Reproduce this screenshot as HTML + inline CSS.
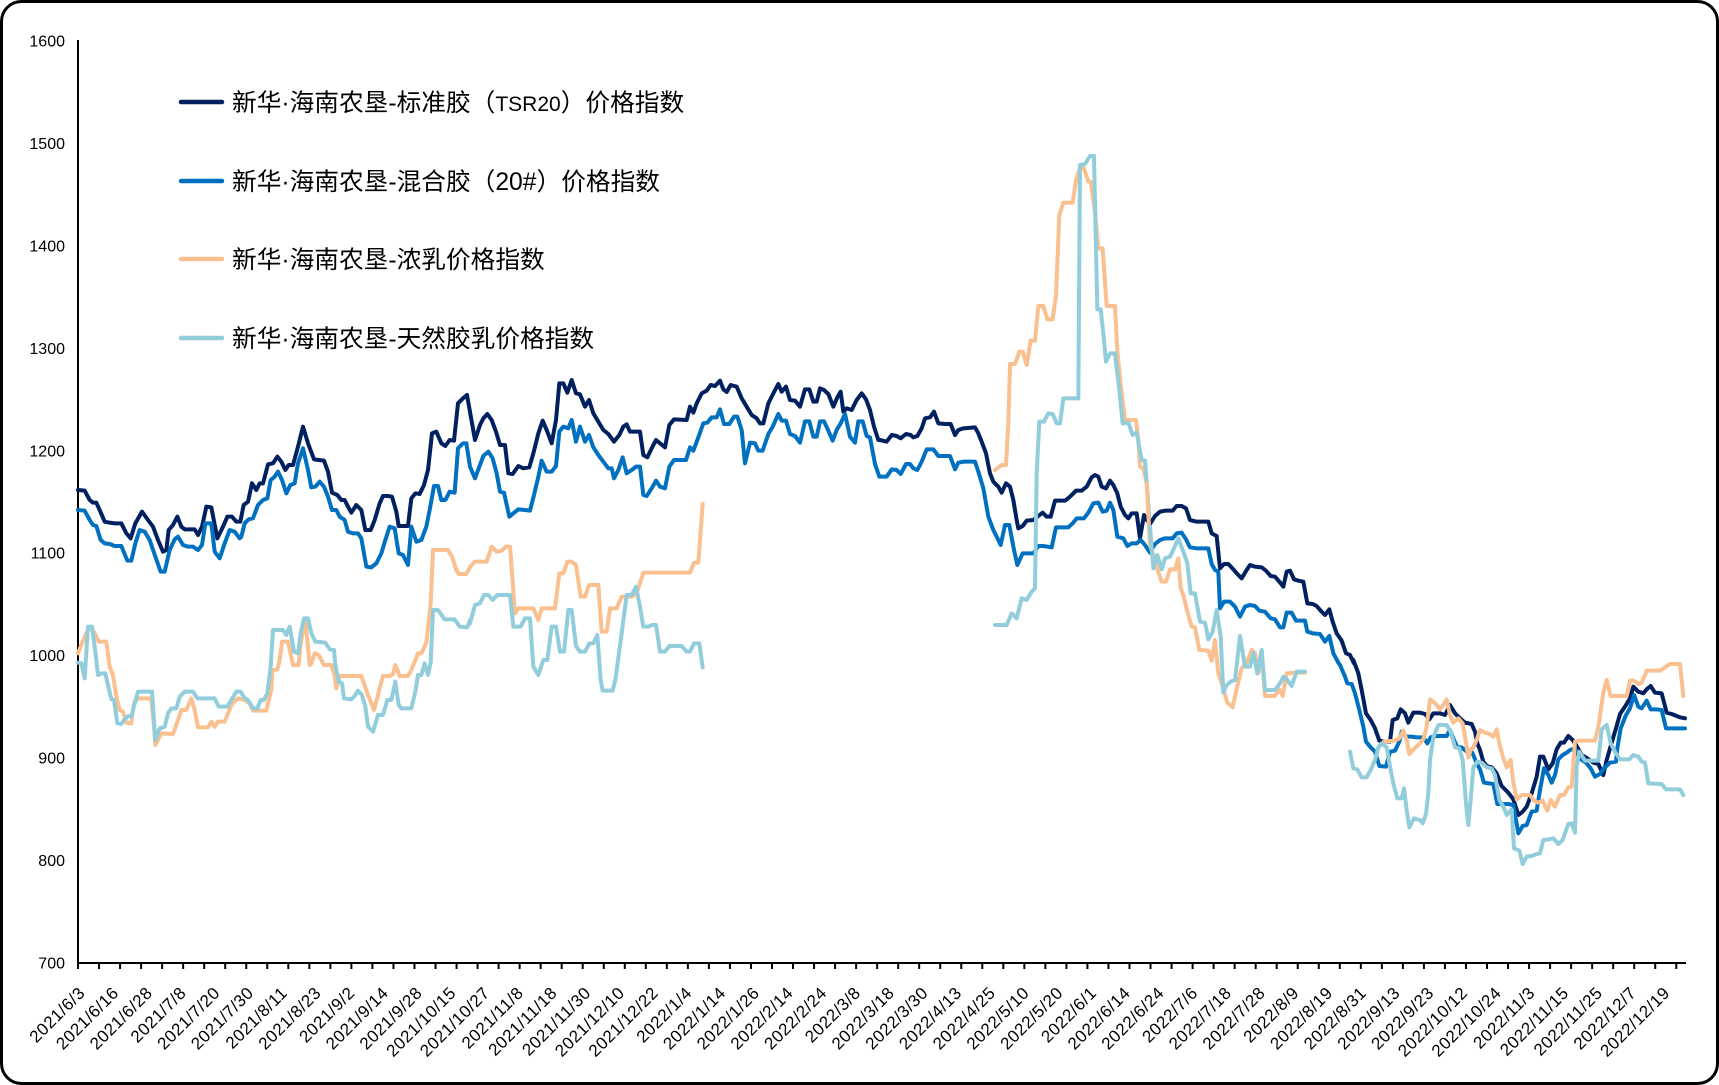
<!DOCTYPE html>
<html><head><meta charset="utf-8"><style>
html,body{margin:0;padding:0;background:#fff;}
svg{display:block;}
text{font-family:"Liberation Sans","Noto Sans CJK SC",sans-serif;fill:#000;}
.s{fill:none;stroke-width:4;stroke-linejoin:round;stroke-linecap:round;}
.c1{stroke:#002060}.c2{stroke:#0070C0}.c3{stroke:#FAC090}.c4{stroke:#92CDDC}
</style></head><body>
<svg width="1719" height="1085" viewBox="0 0 1719 1085" xmlns="http://www.w3.org/2000/svg">
<rect x="1.5" y="1.5" width="1716" height="1082" rx="20" ry="20" fill="#fff" stroke="#000" stroke-width="3"/>
<!-- axes -->
<line x1="78" y1="40" x2="78" y2="964" stroke="#000" stroke-width="2"/>
<line x1="77" y1="963" x2="1686" y2="963" stroke="#000" stroke-width="2"/>
<line x1="77" y1="966" x2="1686" y2="966" stroke="#000" stroke-width="6" stroke-dasharray="2 19.03"/>
<!-- y labels -->
<g font-size="16" text-anchor="end">
<text x="65" y="968.5">700</text>
<text x="65" y="866.1">800</text>
<text x="65" y="763.6">900</text>
<text x="65" y="661.2">1000</text>
<text x="65" y="558.7">1100</text>
<text x="65" y="456.3">1200</text>
<text x="65" y="353.8">1300</text>
<text x="65" y="251.4">1400</text>
<text x="65" y="148.9">1500</text>
<text x="65" y="46.5">1600</text>
</g>
<!-- x labels -->
<g font-size="17" letter-spacing="0.5" text-anchor="end">
<text transform="translate(86 994) rotate(-45)">2021/6/3</text>
<text transform="translate(119.72 994) rotate(-45)">2021/6/16</text>
<text transform="translate(153.44 994) rotate(-45)">2021/6/28</text>
<text transform="translate(187.16 994) rotate(-45)">2021/7/8</text>
<text transform="translate(220.88 994) rotate(-45)">2021/7/20</text>
<text transform="translate(254.6 994) rotate(-45)">2021/7/30</text>
<text transform="translate(288.32 994) rotate(-45)">2021/8/11</text>
<text transform="translate(322.04 994) rotate(-45)">2021/8/23</text>
<text transform="translate(355.76 994) rotate(-45)">2021/9/2</text>
<text transform="translate(389.48 994) rotate(-45)">2021/9/14</text>
<text transform="translate(423.2 994) rotate(-45)">2021/9/28</text>
<text transform="translate(456.92 994) rotate(-45)">2021/10/15</text>
<text transform="translate(490.64 994) rotate(-45)">2021/10/27</text>
<text transform="translate(524.36 994) rotate(-45)">2021/11/8</text>
<text transform="translate(558.08 994) rotate(-45)">2021/11/18</text>
<text transform="translate(591.8 994) rotate(-45)">2021/11/30</text>
<text transform="translate(625.52 994) rotate(-45)">2021/12/10</text>
<text transform="translate(659.24 994) rotate(-45)">2021/12/22</text>
<text transform="translate(692.96 994) rotate(-45)">2022/1/4</text>
<text transform="translate(726.68 994) rotate(-45)">2022/1/14</text>
<text transform="translate(760.4 994) rotate(-45)">2022/1/26</text>
<text transform="translate(794.12 994) rotate(-45)">2022/2/14</text>
<text transform="translate(827.84 994) rotate(-45)">2022/2/24</text>
<text transform="translate(861.56 994) rotate(-45)">2022/3/8</text>
<text transform="translate(895.28 994) rotate(-45)">2022/3/18</text>
<text transform="translate(929 994) rotate(-45)">2022/3/30</text>
<text transform="translate(962.72 994) rotate(-45)">2022/4/13</text>
<text transform="translate(996.44 994) rotate(-45)">2022/4/25</text>
<text transform="translate(1030.16 994) rotate(-45)">2022/5/10</text>
<text transform="translate(1063.88 994) rotate(-45)">2022/5/20</text>
<text transform="translate(1097.6 994) rotate(-45)">2022/6/1</text>
<text transform="translate(1131.32 994) rotate(-45)">2022/6/14</text>
<text transform="translate(1165.04 994) rotate(-45)">2022/6/24</text>
<text transform="translate(1198.76 994) rotate(-45)">2022/7/6</text>
<text transform="translate(1232.48 994) rotate(-45)">2022/7/18</text>
<text transform="translate(1266.2 994) rotate(-45)">2022/7/28</text>
<text transform="translate(1299.92 994) rotate(-45)">2022/8/9</text>
<text transform="translate(1333.64 994) rotate(-45)">2022/8/19</text>
<text transform="translate(1367.36 994) rotate(-45)">2022/8/31</text>
<text transform="translate(1401.08 994) rotate(-45)">2022/9/13</text>
<text transform="translate(1434.8 994) rotate(-45)">2022/9/23</text>
<text transform="translate(1468.52 994) rotate(-45)">2022/10/12</text>
<text transform="translate(1502.24 994) rotate(-45)">2022/10/24</text>
<text transform="translate(1535.96 994) rotate(-45)">2022/11/3</text>
<text transform="translate(1569.68 994) rotate(-45)">2022/11/15</text>
<text transform="translate(1603.4 994) rotate(-45)">2022/11/25</text>
<text transform="translate(1637.12 994) rotate(-45)">2022/12/7</text>
<text transform="translate(1670.84 994) rotate(-45)">2022/12/19</text>
</g>

<!-- Segment A (zoom origin 78,370) -->
<g transform="translate(78 370) scale(0.333333)">
<polyline class="s c1" vector-effect="non-scaling-stroke" points="0,360 20,362 35,390 45,398 55,398 65,420 80,455 95,458 110,460 130,460 145,490 158,505 172,460 192,425 210,450 225,470 240,510 255,545 265,540 272,480 285,465 298,440 310,470 320,478 350,478 360,495 372,470 385,410 400,412 418,505 435,470 448,440 462,440 475,455 487,455 497,405 510,395 522,340 535,360 545,340 555,340 570,283 585,280 598,260 610,275 622,300 632,285 645,285 660,230 675,170 690,220 708,268 722,270 738,272 750,305 762,368 778,375 790,390 800,390 810,410 820,428 835,405 850,420 862,480 878,480 890,450 905,400 915,378 930,378 942,380 955,425 962,468 990,468 1000,385 1012,370 1025,372 1038,345 1050,300 1062,190 1075,185 1090,220 1102,228 1115,210 1128,212 1140,100 1155,85 1167,75"/>
<polyline class="s c2" vector-effect="non-scaling-stroke" points="0,420 20,422 35,450 45,465 55,468 68,510 80,520 95,522 110,528 130,528 148,572 160,572 172,520 185,480 200,485 215,510 232,560 248,605 260,605 275,540 290,508 300,500 315,525 330,530 345,530 360,540 372,525 382,460 400,460 410,545 425,565 440,520 455,480 470,485 485,505 490,500 500,460 512,448 525,445 540,405 555,390 568,385 578,330 590,320 600,305 612,330 625,370 637,345 650,340 660,280 675,235 690,300 700,352 712,350 725,335 738,350 750,380 762,420 775,420 785,440 800,450 810,485 825,490 840,490 850,505 865,590 880,592 895,580 910,550 922,510 935,470 950,475 962,550 975,555 990,585 1000,470 1015,515 1030,510 1045,470 1055,420 1068,348 1080,348 1090,390 1102,390 1115,365 1130,368 1140,235 1155,220 1165,220"/>
<polyline class="s c3" vector-effect="non-scaling-stroke" points="0,850 12,820 25,790 38,770 50,790 62,815 85,815 95,890 105,915 115,980 125,1020 135,1025 145,1058 160,1060 168,1000 180,985 215,985 220,990 228,1070 232,1125 250,1090 285,1092 300,1050 310,1020 325,1020 340,985 350,1020 360,1072 390,1072 400,1055 410,1070 420,1055 440,1055 452,1025 462,1002 480,985 500,990 515,1000 525,1022 565,1022 570,1000 580,960 583,900 598,898 605,870 612,815 630,815 645,885 662,885 668,820 682,750 695,885 700,880 710,850 722,855 738,885 760,885 770,918 775,955 785,918 850,918 858,940 870,975 888,1020 900,975 910,935 915,918 935,918 945,912 952,885 965,918 990,918 1000,900 1012,870 1020,850 1030,850 1045,818 1058,700 1065,540 1110,540 1122,560 1135,600 1142,612 1165,612 1176,592"/>
<polyline class="s c4" vector-effect="non-scaling-stroke" points="0,878 10,880 20,925 30,770 42,770 52,845 60,915 72,910 82,910 90,945 100,988 108,990 118,1060 130,1062 140,1048 150,1038 160,1040 170,1000 180,965 222,965 232,1110 245,1075 260,1070 270,1030 280,1015 295,1015 305,980 320,965 345,965 358,985 410,985 422,1010 448,1010 460,990 475,965 488,965 500,985 510,990 525,1015 538,1015 548,990 558,990 568,970 578,890 585,780 615,780 625,795 635,770 648,845 660,850 668,790 678,745 690,745 700,790 712,815 742,818 755,838 768,840 772,885 782,935 792,940 798,985 820,988 830,978 840,962 852,975 862,1010 870,1070 885,1085 900,1035 915,1035 928,990 940,990 952,935 962,1005 970,1015 1000,1015 1012,965 1020,915 1030,915 1040,880 1050,915 1058,878 1065,720 1080,720 1100,748 1130,748 1145,770 1168,772 1176,750"/>
</g>

<!-- Segment B (zoom origin 470,360) -->
<g transform="translate(470 360) scale(0.333333)">
<polyline class="s c1" vector-effect="non-scaling-stroke" points="-9,105 15,240 30,195 40,175 52,162 65,180 78,215 90,255 105,255 115,340 128,342 145,318 160,325 178,322 190,280 205,220 218,182 232,215 245,250 258,180 268,70 280,70 292,98 305,60 318,100 330,103 345,140 357,120 370,160 385,185 400,210 415,222 432,245 448,225 460,200 470,193 480,215 510,215 520,285 532,292 545,265 558,240 570,250 585,262 598,195 612,178 650,180 660,140 670,158 680,130 695,100 710,92 722,75 735,78 750,62 760,88 770,96 782,75 800,80 815,115 830,140 845,165 860,175 870,190 880,190 895,130 910,100 925,72 935,95 948,80 960,120 975,122 990,140 1005,88 1018,88 1030,125 1040,125 1050,85 1062,90 1075,102 1090,140 1102,112 1112,95 1120,155 1130,145 1145,150 1160,120 1175,100 1188,118 1200,150 1212,200 1225,240 1230,240"/>
<polyline class="s c2" vector-effect="non-scaling-stroke" points="-11,250 0,320 15,355 28,320 40,288 55,275 68,295 80,340 90,395 102,398 118,470 130,460 145,448 165,450 180,452 192,405 205,350 215,302 230,335 245,335 258,318 268,215 280,200 295,205 305,180 318,245 330,200 345,245 357,225 370,262 385,285 400,305 415,325 425,325 432,355 445,330 458,292 470,340 485,330 498,320 510,320 520,405 530,408 545,385 558,362 570,380 585,385 598,320 612,300 648,300 660,262 670,272 685,232 700,190 712,188 725,172 740,172 750,148 762,192 778,192 792,170 802,170 815,210 825,310 840,248 855,250 865,272 878,272 895,222 908,200 925,162 935,182 948,182 960,222 975,228 990,248 1005,184 1018,184 1030,230 1040,230 1050,184 1062,184 1075,212 1088,242 1100,210 1112,190 1125,162 1140,230 1155,248 1165,184 1178,184 1190,228 1200,232 1215,312 1228,350 1230,350"/>
<polyline class="s c3" vector-effect="non-scaling-stroke" points="0,620 15,605 50,605 65,560 80,575 95,572 108,560 120,560 135,760 145,745 190,745 205,780 215,745 255,745 268,640 280,640 292,605 305,605 318,615 332,710 345,710 357,675 385,675 395,815 410,815 420,745 440,745 455,710 485,710 500,700 520,638 660,638 672,608 685,608 698,432"/>
<polyline class="s c4" vector-effect="non-scaling-stroke" points="0,790 15,735 30,730 42,705 55,705 68,720 82,705 120,705 130,800 152,800 165,775 180,775 190,920 205,945 220,900 232,900 245,800 258,800 270,875 282,875 295,750 305,750 318,858 330,875 345,875 358,850 370,850 382,825 392,960 398,992 428,992 436,960 455,820 470,705 485,705 498,680 510,740 520,800 535,800 545,795 558,795 570,875 585,875 598,858 635,858 650,875 660,875 672,850 688,850 698,922"/>
</g>

<!-- Segment C (zoom origin 880,140) -->
<g transform="translate(880 140) scale(0.333333)">
<polyline class="s c1" vector-effect="non-scaling-stroke" points="0,900 20,905 35,885 50,888 62,895 78,882 92,885 100,892 112,888 125,865 135,835 150,832 162,815 175,850 195,852 212,852 225,885 235,870 250,865 285,862 295,880 305,905 318,940 330,1000 340,1025 355,1040 365,1058 378,1030 390,1040 400,1080 410,1140 415,1165 428,1158 440,1142 460,1140 475,1128 488,1118 500,1130 512,1130 525,1082 555,1082 570,1070 588,1052 605,1052 620,1040 635,1012 645,1005 655,1010 665,1040 678,1045 690,1022 700,1035 712,1060 722,1100 735,1125 745,1135 755,1120 770,1120 780,1195 792,1125 800,1140 810,1150"/>
<polyline class="s c2" vector-effect="non-scaling-stroke" points="0,1010 20,1010 35,988 50,990 62,1002 78,972 90,972 100,985 112,990 125,965 140,928 160,928 175,948 210,948 225,988 235,968 250,965 285,965 295,995 310,1045 325,1130 340,1170 350,1190 362,1215 375,1155 388,1155 400,1220 412,1275 428,1240 460,1240 475,1218 490,1218 515,1222 528,1162 565,1162 578,1150 590,1135 612,1135 625,1118 640,1090 655,1088 668,1115 680,1112 690,1088 700,1110 712,1190 730,1195 742,1218 755,1210 770,1210 782,1200 795,1215 810,1238"/>
<polyline class="s c3" vector-effect="non-scaling-stroke" points="345,990 365,975 378,975 385,850 390,672 405,672 418,635 428,635 440,675 452,602 465,602 475,498 490,498 502,538 518,538 528,465 538,225 550,188 578,188 588,120 600,85 612,85 625,125 632,125 645,215 655,325 668,325 680,498 705,498 712,635 725,760 735,840 768,840 775,900 780,980 790,985 800,1030"/>
<polyline class="s c4" vector-effect="non-scaling-stroke" points="345,1455 380,1455 395,1420 410,1435 425,1375 440,1380 455,1355 465,1345 470,1000 478,845 492,845 505,820 518,822 530,850 540,850 550,775 595,775 600,75 615,72 630,48 642,48 652,508 662,508 670,580 678,665 690,640 705,640 718,750 728,850 745,848 758,885 770,878 785,960 795,962 802,1050 810,1165"/>
</g>

<!-- Segment D (zoom origin 1150,420) -->
<g transform="translate(1150 420) scale(0.333333)">
<polyline class="s c1" vector-effect="non-scaling-stroke" points="0,312 15,288 30,275 45,272 68,272 80,258 95,258 108,265 120,300 140,305 175,305 185,340 200,348 210,445 222,432 235,432 250,448 262,462 275,475 290,450 300,435 315,440 335,442 348,452 362,468 375,470 388,485 400,500 410,455 420,452 432,478 445,482 460,485 472,550 488,552 500,558 512,572 525,585 538,568 548,605 560,640 575,662 588,700 600,705 612,730"/>
<polyline class="s c2" vector-effect="non-scaling-stroke" points="0,395 15,372 30,360 45,355 68,355 80,340 95,338 108,358 120,382 140,385 175,385 185,432 195,450 205,455 210,565 222,545 240,545 255,560 270,590 285,560 300,555 315,558 328,572 345,575 362,595 375,598 390,622 400,622 410,578 425,578 438,602 465,602 472,635 488,640 510,642 525,665 538,648 550,700 565,728 570,735"/>
<polyline class="s c3" vector-effect="non-scaling-stroke" points="-10,190 0,375 10,405 22,448 35,485 48,485 60,448 75,448 85,415 92,505 100,525 112,575 125,620 135,622 148,690 175,692 185,722 195,660 205,760 218,800 232,848 248,862 262,798 275,745 290,728 305,690 315,700 325,760 335,700 345,828 375,828 388,808 398,828 410,760 435,758 465,758"/>
<polyline class="s c4" vector-effect="non-scaling-stroke" points="0,320 10,445 22,405 35,448 45,415 60,410 72,385 85,355 100,395 112,430 122,520 135,520 150,605 165,608 175,658 188,635 200,570 212,650 220,818 230,795 242,785 255,780 270,648 285,740 300,740 310,700 322,760 335,690 345,810 375,810 390,790 400,770 412,780 425,798 440,755 465,755"/>
</g>

<!-- Segment E (zoom origin 1340,660) -->
<g transform="translate(1340 660) scale(0.333333)">
<polyline class="s c1" vector-effect="non-scaling-stroke" points="40,0 55,40 65,90 78,160 92,180 105,205 118,242 135,245 150,245 158,180 172,175 182,148 195,160 205,188 220,158 240,158 255,162 268,178 280,160 300,160 315,165 330,135 345,160 360,175 375,188 395,192 405,215 412,250 420,270 430,305 440,318 455,322 470,340 485,378 505,398 520,418 535,465 548,455 560,440 575,400 590,350 600,290 610,290 625,328 638,310 650,268 662,248 672,248 685,228 698,240 710,258 725,285 742,295 760,308 775,312 790,345 800,300 815,248 828,205 840,162 855,140 870,115 880,80 895,95 910,100 920,88 932,78 945,98 965,100 980,158 995,162 1010,168 1020,172 1035,175"/>
<polyline class="s c2" vector-effect="non-scaling-stroke" points="0,15 15,50 22,70 35,72 45,100 58,150 70,200 78,245 92,262 105,275 118,318 138,320 150,275 165,272 178,245 185,215 198,230 215,230 230,232 250,232 262,250 272,232 290,228 320,228 330,210 342,240 352,262 365,262 380,275 392,270 400,285 410,310 420,328 432,368 460,372 472,432 505,432 520,435 535,520 548,498 560,495 575,455 590,452 600,390 612,325 625,345 635,368 645,345 655,298 668,285 680,278 690,270 705,265 718,295 738,308 752,325 765,350 780,342 792,325 810,308 828,305 832,265 842,205 858,165 870,145 882,105 895,140 905,145 920,122 932,148 950,148 965,150 978,205 1000,205 1035,205"/>
<polyline class="s c3" vector-effect="non-scaling-stroke" points="132,245 165,242 178,235 190,212 200,240 208,282 220,268 235,255 250,238 260,200 270,118 285,130 300,148 310,135 320,118 330,165 340,188 355,175 368,190 375,230 385,292 392,270 400,262 410,240 420,210 435,218 448,222 460,230 470,208 478,250 490,295 500,322 512,300 520,368 530,418 545,405 570,405 582,422 595,428 608,422 622,452 632,420 645,440 660,405 672,405 685,382 695,380 705,245 715,242 765,242 775,200 790,98 800,60 812,108 860,108 870,62 882,62 895,72 905,68 920,32 960,32 975,22 990,12 1020,12 1030,108"/>
<polyline class="s c4" vector-effect="non-scaling-stroke" points="30,275 40,325 52,328 65,352 80,352 92,330 105,300 115,262 125,250 140,262 150,320 160,370 172,415 185,415 192,385 200,450 208,502 222,475 240,480 248,490 258,462 265,400 270,300 280,232 295,195 320,195 332,215 345,262 358,265 368,300 378,430 385,495 392,420 400,322 412,305 425,308 440,322 455,325 465,345 478,420 490,440 500,465 515,448 522,565 538,572 548,612 560,590 575,588 590,582 600,580 610,540 628,538 640,535 655,552 668,540 685,492 695,490 705,518 710,320 718,275 735,302 775,302 785,208 800,195 812,250 825,275 840,298 868,298 880,285 895,290 905,305 915,308 925,370 965,372 978,388 1020,388 1030,405"/>
</g>

<!-- legend -->
<g stroke-width="4.5" stroke-linecap="round">
<line x1="181" y1="102" x2="222" y2="102" stroke="#002060"/>
<line x1="181" y1="181" x2="222" y2="181" stroke="#0070C0"/>
<line x1="181" y1="259" x2="222" y2="259" stroke="#FAC090"/>
<line x1="181" y1="338" x2="222" y2="338" stroke="#92CDDC"/>
</g>
<g font-size="24.7" fill="#111">
<text x="232" y="111">新华·海南农垦-标准胶（<tspan font-size="21">TSR20</tspan>）价格指数</text>
<text x="232" y="190">新华·海南农垦-混合胶（20#）价格指数</text>
<text x="232" y="268">新华·海南农垦-浓乳价格指数</text>
<text x="232" y="347">新华·海南农垦-天然胶乳价格指数</text>
</g>
</svg>
</body></html>
